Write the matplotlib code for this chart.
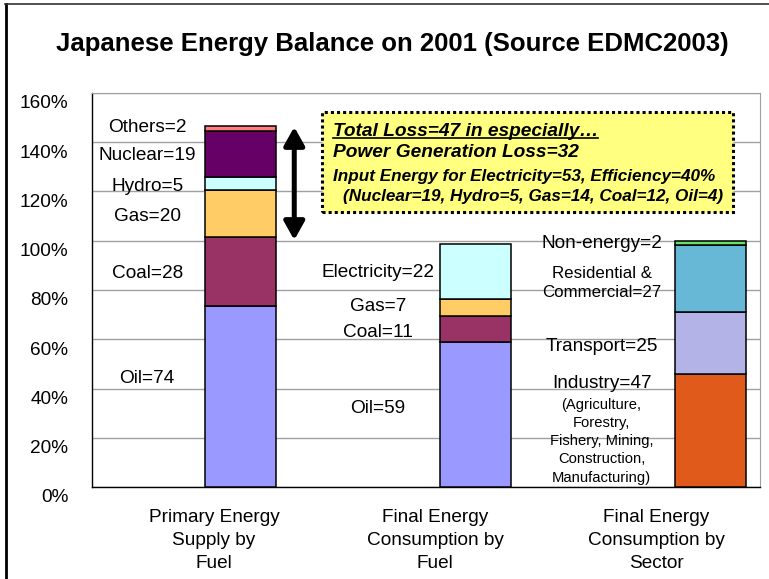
import matplotlib
matplotlib.use("Agg")
import matplotlib.pyplot as plt
import numpy as np
from matplotlib.lines import Line2D
from matplotlib.patches import Rectangle, FancyArrowPatch
import matplotlib.transforms as mtransforms

plt.rcParams['font.family'] = ['Liberation Sans', 'DejaVu Sans']

# ---------------- data ----------------
categories = ["Primary Energy\nSupply by\nFuel",
              "Final Energy\nConsumption by\nFuel",
              "Final Energy\nConsumption by\nSector"]

primary_names = ["Oil", "Coal", "Gas", "Hydro", "Nuclear", "Others"]
primary_values = [73.6, 27.8, 19.1, 5.3, 18.8, 2.0]
primary_labels = ["Oil=74", "Coal=28", "Gas=20", "Hydro=5", "Nuclear=19", "Others=2"]
primary_colors = ["#9999FF", "#993366", "#FFCC66", "#CCFFFF", "#660066", "#FF7C80"]

fuel_names = ["Oil", "Coal", "Gas", "Electricity"]
fuel_values = [58.8, 10.5, 6.9, 22.6]
fuel_labels = ["Oil=59", "Coal=11", "Gas=7", "Electricity=22"]
fuel_colors = ["#9999FF", "#993366", "#FFCC66", "#CCFFFF"]

sector_names = ["Industry", "Transport", "Residential & Commercial", "Non-energy"]
sector_values = [45.9, 25.0, 27.4, 1.5]
sector_colors = ["#E05A1C", "#B3B3E8", "#66B8D6", "#66E066"]

yticks = [0, 20, 40, 60, 80, 100, 120, 140, 160]
ytick_labels = ["0%", "20%", "40%", "60%", "80%", "100%", "120%", "140%", "160%"]

title = "Japanese Energy Balance on 2001 (Source EDMC2003)"
box_lines = ["Total Loss=47 in especially\u2026",
             "Power Generation Loss=32",
             "Input Energy for Electricity=53, Efficiency=40%",
             "(Nuclear=19, Hydro=5, Gas=14, Coal=12, Oil=4)"]

# ---------------- figure ----------------
W, H = 769, 579
fig = plt.figure(figsize=(W / 100, H / 100), dpi=100)
fig.patch.set_facecolor("white")

ax = fig.add_axes([92 / W, 1 - 487 / H, 668 / W, 394 / H])
ax.set_xlim(-0.634, 2.213)
ax.set_ylim(0, 160)

bar_w = 0.3026
x = np.arange(3)


def stack(xpos, values, colors):
    bottom = 0.0
    for v, c in zip(values, colors):
        ax.bar(xpos, v, bottom=bottom, width=bar_w, color=c,
               edgecolor="black", linewidth=1.1, zorder=3)
        bottom += v


stack(x[0], primary_values, primary_colors)
stack(x[1], fuel_values, fuel_colors)
stack(x[2], sector_values, sector_colors)

# grid & spines
ax.set_yticks(yticks)
ax.set_yticklabels(ytick_labels, fontsize=13.7)
ax.yaxis.grid(True, color="#A0A0A0", linewidth=1.0, zorder=0)
ax.set_axisbelow(True)
ax.tick_params(axis="y", length=0, pad=17)
ax.tick_params(axis="x", length=0)
ax.set_xticks([])
for s in ["top", "right"]:
    ax.spines[s].set_color("#A0A0A0")
for s in ["left", "bottom"]:
    ax.spines[s].set_color("black")
    ax.spines[s].set_linewidth(1.0)

offset = mtransforms.ScaledTranslation(0, -9 / 100, fig.dpi_scale_trans)
for lab in ax.get_yticklabels():
    lab.set_transform(lab.get_transform() + offset)

# category labels (below axis)
cat_x = [-0.114, 0.828, 1.770]
btrans = mtransforms.blended_transform_factory(ax.transData, ax.transAxes)
for cx, c in zip(cat_x, categories):
    ax.text(cx, -0.056, c, transform=btrans, ha="center", va="top",
            fontsize=13.7, linespacing=1.45)

# segment labels
primary_label_y = [43.9, 86.9, 110.0, 122.2, 134.8, 145.8]
for lbl, yy in zip(primary_labels, primary_label_y):
    ax.text(-0.399, yy, lbl, ha="center", va="center", fontsize=13.7, zorder=4)

fuel_label_y = [31.7, 62.7, 73.1, 87.0]
for lbl, yy in zip(fuel_labels, fuel_label_y):
    ax.text(0.585, yy, lbl, ha="center", va="center", fontsize=13.7, zorder=4)

sx = 1.538
ax.text(sx, 99.0, "Non-energy=2", ha="center", va="center", fontsize=13.7, zorder=4)
ax.text(sx, 83.0, "Residential &\nCommercial=27", ha="center", va="center",
        fontsize=12.2, linespacing=1.35, zorder=4)
ax.text(sx, 57.0, "Transport=25", ha="center", va="center", fontsize=13.7, zorder=4)
ax.text(sx, 42.1, "Industry=47", ha="center", va="center", fontsize=13.7, zorder=4)
ax.text(sx, 18.6, "(Agriculture,\nForestry,\nFishery, Mining,\nConstruction,\nManufacturing)",
        ha="center", va="center", fontsize=10.6, linespacing=1.38, zorder=4)

# double arrow
arr = FancyArrowPatch((0.228, 100.3), (0.228, 146.2),
                      arrowstyle="<|-|>,head_length=0.5,head_width=0.28",
                      mutation_scale=22, lw=3.6, color="black",
                      shrinkA=0, shrinkB=0, zorder=5)
ax.add_patch(arr)

# annotation box
box = Rectangle((0.345, 111.8), 2.096 - 0.345, 152.4 - 111.8,
                facecolor="#FFFF80", edgecolor="black", linewidth=2.2,
                linestyle=(0, (1, 1)), zorder=6)
ax.add_patch(box)
t1 = ax.text(0.393, 144.3, box_lines[0], ha="left", va="center", fontsize=13.8,
             fontweight="bold", fontstyle="italic", zorder=7)
ax.text(0.393, 135.9, box_lines[1], ha="left", va="center", fontsize=13.8,
        fontweight="bold", fontstyle="italic", zorder=7)
ax.text(0.393, 126.0, box_lines[2], ha="left", va="center", fontsize=12.3,
        fontweight="bold", fontstyle="italic", zorder=7)
ax.text(0.435, 117.9, box_lines[3], ha="left", va="center", fontsize=12.3,
        fontweight="bold", fontstyle="italic", zorder=7)

# title
fig.text(392 / W, 1 - 44 / H, title, ha="center", va="center",
         fontsize=18.5, fontweight="bold")

# outer frame
fig.add_artist(Line2D([6 / W, 6 / W], [0, 1 - 4 / H], color="black", lw=2.0,
                      transform=fig.transFigure))
fig.add_artist(Line2D([5 / W, 1], [1 - 4 / H, 1 - 4 / H], color="#333333", lw=1.2,
                      transform=fig.transFigure))

# underline first box line
fig.canvas.draw()
bb = t1.get_window_extent(fig.canvas.get_renderer())
uy = 1 - 138 / H
fig.add_artist(Line2D([bb.x0 / W, bb.x1 / W], [uy, uy], color="black", lw=1.2,
                      transform=fig.transFigure, zorder=8))

fig.savefig("out.png", dpi=100)
